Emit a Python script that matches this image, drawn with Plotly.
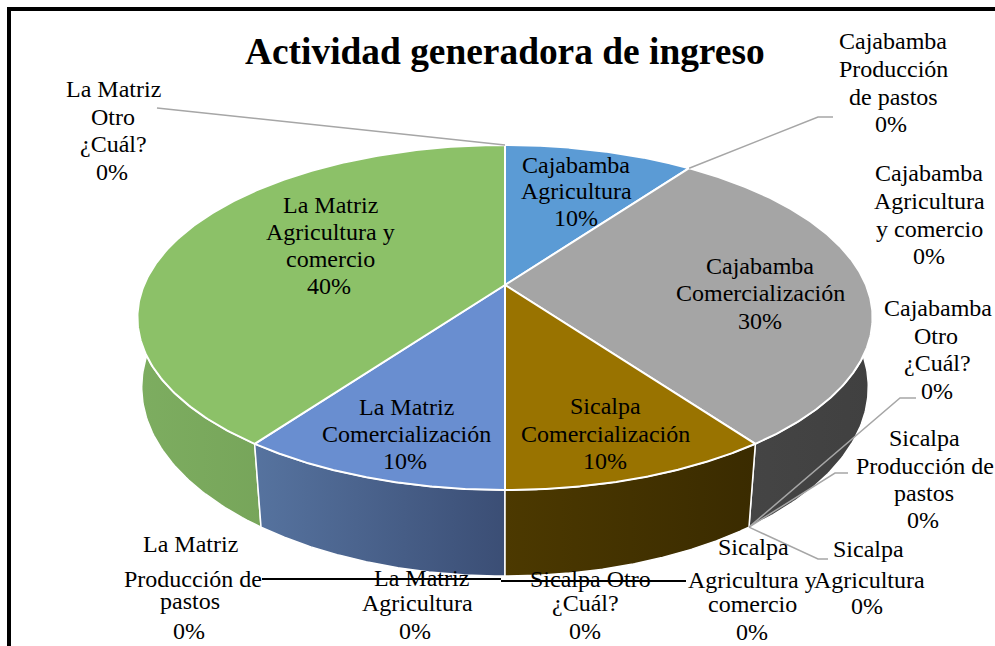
import numpy as np
import plotly.graph_objects as go

# ---------- data ----------
TITLE = "Actividad generadora de ingreso"
categories = [
    "Cajabamba Agricultura", "Cajabamba Producción de pastos", "Cajabamba Agricultura y comercio",
    "Cajabamba Comercialización", "Cajabamba Otro ¿Cuál?", "Sicalpa Producción de pastos",
    "Sicalpa Agricultura", "Sicalpa Agricultura y comercio", "Sicalpa Comercialización",
    "Sicalpa Otro ¿Cuál?", "La Matriz Agricultura", "La Matriz Comercialización",
    "La Matriz Producción de pastos", "La Matriz Agricultura y comercio", "La Matriz Otro ¿Cuál?",
]
values = [10, 0, 0, 30, 0, 0, 0, 0, 10, 0, 0, 10, 0, 40, 0]

# ---------- style / layout (pixel space of the chart frame) ----------
W, H = 995, 646
CX, CY = 505, 285          # apex of the pie on the top face
R, A, K = 361, 166.4, 0.1884
BOT_R, BOT_CY, BOT_A, BOT_K = 358, 355, 183.5, 0.17

top_colors = {0: "#5B9BD5", 3: "#A5A5A5", 8: "#997300", 11: "#698ED0", 13: "#8CC168"}
wall_colors = {
    0: ("#44729c", "#44729c"), 3: ("#474747", "#404040"), 8: ("#4c3900", "#3a2b00"),
    11: ("#56739f", "#3b4e75"), 13: ("#7dad60", "#6b964f"),
}
FONT = "Liberation Serif, Times New Roman, serif"
FS = 24
LEADER = "#A6A6A6"

label_lines = {
    0: [("Cajabamba", 576, 165), ("Agricultura", 576, 191), ("%", 576, 218)],
    1: [("Cajabamba", 893, 41), ("Producción", 893, 69), ("de pastos", 893, 97), ("%", 891, 124)],
    2: [("Cajabamba", 929, 173), ("Agricultura", 929, 201), ("y comercio", 929, 229), ("%", 929, 256)],
    3: [("Cajabamba", 760, 266), ("Comercialización", 760, 293), ("%", 760, 321)],
    4: [("Cajabamba", 938, 308), ("Otro", 936, 336), ("¿Cuál?", 937, 363), ("%", 937, 391)],
    5: [("Sicalpa", 924, 438), ("Producción de", 925, 466), ("pastos", 924, 493), ("%", 923, 520)],
    6: [("Sicalpa", 868, 549), ("Agricultura", 869, 580), ("%", 867, 606)],
    7: [("Sicalpa", 753, 547), ("Agricultura y", 752, 580), ("comercio", 752, 604), ("%", 752, 632)],
    8: [("Sicalpa", 605, 406), ("Comercialización", 605, 434), ("%", 605, 461)],
    9: [("Sicalpa Otro", 590, 579), ("¿Cuál?", 585, 603), ("%", 585, 631)],
    10: [("La Matriz", 421, 578), ("Agricultura", 417, 603), ("%", 415, 631)],
    11: [("La Matriz", 406, 407), ("Comercialización", 406, 434), ("%", 405, 461)],
    12: [("La Matriz", 190, 544), ("Producción de", 193, 579), ("pastos", 190, 601), ("%", 189, 631)],
    13: [("La Matriz", 330, 205), ("Agricultura y", 330, 232), ("comercio", 330, 259), ("%", 329, 286)],
    14: [("La Matriz", 113, 89), ("Otro", 113, 117), ("¿Cuál?", 113, 144), ("%", 112, 172)],
}
# leader lines: slice index, which rim, elbow points
leaders = [
    (14, "top", [(170, 109), (157, 108)]),
    (1, "top", [(818, 117), (833, 117)]),
    (4, "bot", [(900, 398), (916, 398)]),
    (5, "bot", [(835, 473), (848, 473)]),
    (6, "bot", [(818, 559), (828, 559)]),
]


def rim(theta, bottom=False):
    u, v = np.sin(theta), -np.cos(theta)
    if bottom:
        w = 1 - BOT_K * v
        return CX + BOT_R * u / w, BOT_CY + BOT_A * v / w
    w = 1 - K * v
    return CX + R * u / w, CY + A * v / w


vals = np.array(values, float)
edges = np.concatenate([[0], np.cumsum(vals)]) / vals.sum() * 2 * np.pi
fig = go.Figure()

# side walls first, so the top faces cover their hidden back part
for i in [13, 0, 3, 11, 8]:
    th = np.linspace(edges[i], edges[i + 1], 160)
    xt, yt = rim(th)
    xb, yb = rim(th[::-1], bottom=True)
    x, y = np.r_[xt, xb, xt[0]], np.r_[yt, yb, yt[0]]
    c0, c1 = wall_colors[i]
    fig.add_trace(go.Scatter(
        x=x, y=y, mode="lines", fill="toself", hoverinfo="skip",
        line=dict(color="white", width=1.5),
        fillgradient=dict(type="horizontal", colorscale=[[0, c0], [1, c1]]),
    ))

# top faces
for i in top_colors:
    th = np.linspace(edges[i], edges[i + 1], 240)
    xt, yt = rim(th)
    fig.add_trace(go.Scatter(
        x=np.r_[CX, xt, CX], y=np.r_[CY, yt, CY], mode="lines", fill="toself",
        fillcolor=top_colors[i], line=dict(color="white", width=2), hoverinfo="skip",
    ))

# leader lines
for i, where, elbow in leaders:
    ax, ay = rim(edges[i + 1], bottom=where == "bot")
    fig.add_trace(go.Scatter(
        x=[ax] + [p[0] for p in elbow], y=[ay] + [p[1] for p in elbow],
        mode="lines", line=dict(color=LEADER, width=1.5), hoverinfo="skip",
    ))

# stray black rule across the bottom labels
fig.add_shape(type="line", x0=262, x1=501, y0=579, y1=579, line=dict(color="black", width=2))
fig.add_shape(type="line", x0=501, x1=686, y0=581, y1=581, line=dict(color="black", width=2))

# frame: only the top and left edges are in the picture
fig.add_shape(type="line", x0=7, x1=W, y0=9, y1=9, line=dict(color="black", width=4))
fig.add_shape(type="line", x0=9, x1=9, y0=7, y1=H, line=dict(color="black", width=4))

# labels
for i, lines in label_lines.items():
    for text, x, y in lines:
        shown = f"{values[i]}%" if text == "%" else text
        fig.add_annotation(x=x, y=y, text=shown, showarrow=False, xanchor="center", yanchor="middle",
                           font=dict(family=FONT, size=FS, color="black"))

fig.add_annotation(x=505, y=51, text=f"<b>{TITLE}</b>", showarrow=False, xanchor="center", yanchor="middle",
                   font=dict(family=FONT, size=37.4, color="black"))

fig.update_layout(
    width=W, height=H, autosize=False, showlegend=False,
    margin=dict(l=0, r=0, t=0, b=0), paper_bgcolor="white", plot_bgcolor="white",
    xaxis=dict(range=[0, W], visible=False, fixedrange=True),
    yaxis=dict(range=[H, 0], visible=False, fixedrange=True),
)
fig.write_html("out.html", config={"displayModeBar": False},
               post_script="document.body.style.margin='0';document.documentElement.style.overflow='hidden';")
